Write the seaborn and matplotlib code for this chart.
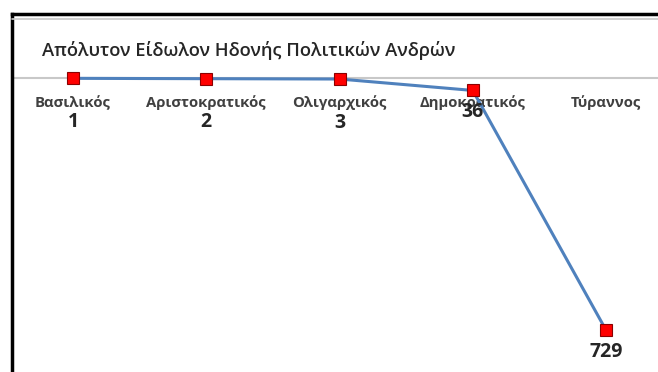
import matplotlib
matplotlib.use('Agg')
import matplotlib.pyplot as plt
import seaborn as sns
import numpy as np
import pandas as pd

# Данные
categories = ['Βασιλικός', 'Αριστοκρατικός', 'Ολιγαρχικός', 'Δημοκρατικός', 'Τύραννος']
values = [1, 2, 3, 36, 729]
title = 'Απόλυτον Είδωλον Ηδονής Πολιτικών Ανδρών'

df = pd.DataFrame({'pos': np.arange(len(categories)), 'value': values})

sns.set_style('white')
plt.rcParams['font.family'] = ['Open Sans', 'DejaVu Sans']

fig = plt.figure(figsize=(6.58, 3.72), dpi=100)
ax = fig.add_axes([12 / 658, 0, 1 - 12 / 658, 1 - 14 / 372])

sns.lineplot(data=df, x='pos', y='value', ax=ax, color='#4F81BD', linewidth=2.2,
             marker='s', markersize=8.5, markerfacecolor='#FF0000',
             markeredgecolor='#8B0000', markeredgewidth=0.8, zorder=3)

ax.set_xlim(-0.458, 4.39)
ax.set_ylim(850, -185)
ax.axhline(0, color='#C8C8C8', linewidth=1.5, zorder=0)

# подписи категорий под осью (линия рисуется поверх)
for i, cat in enumerate(categories):
    ax.annotate(cat, (i, 0), xytext=(0, -18), textcoords='offset points',
                ha='center', va='center', fontsize=10.7, fontweight='bold',
                color='#404040', zorder=1)

# подписи значений
for i, v in enumerate(values):
    off = -31.5 if v < 10 else -15.5
    ax.annotate(str(v), (i, v), xytext=(0, off), textcoords='offset points',
                ha='center', va='center', fontsize=14, fontweight='bold',
                color='#262626', zorder=4)

fig.text(42 / 658, 1 - 50 / 372, title, ha='left', va='center', fontsize=13.2,
         fontweight='semibold', color='#262626')

ax.set_xticks([])
ax.set_yticks([])
ax.set_xlabel('')
ax.set_ylabel('')
for s in ['right', 'bottom']:
    ax.spines[s].set_visible(False)
for s in ['left', 'top']:
    ax.spines[s].set_color('black')
    ax.spines[s].set_linewidth(2.5)

# серая линия под верхней рамкой
fig.add_artist(plt.Line2D([12 / 658, 1], [1 - 19 / 372, 1 - 19 / 372],
                          color='#C8C8C8', linewidth=1.2))

plt.savefig('out.png', dpi=100)
